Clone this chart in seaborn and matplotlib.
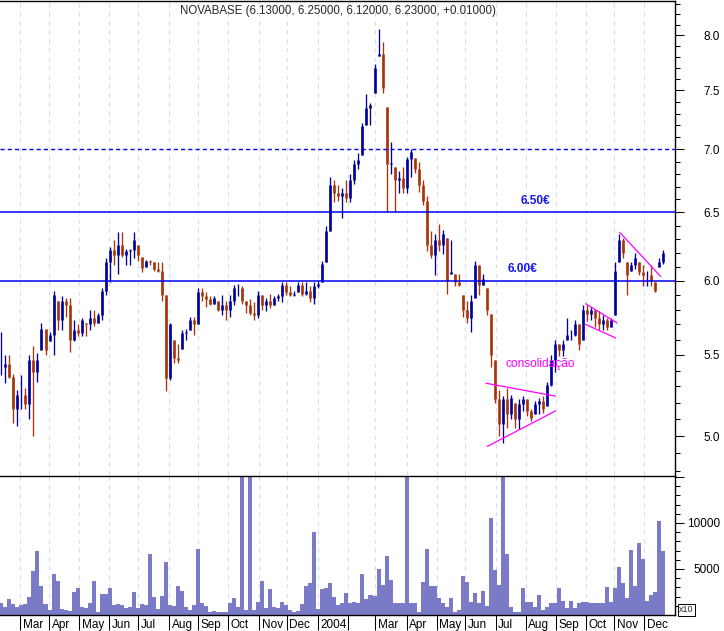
import numpy as np
import pandas as pd
import matplotlib
matplotlib.use("Agg")
import matplotlib.pyplot as plt
import matplotlib.transforms as mtransforms
from matplotlib.ticker import FixedLocator, FixedFormatter, NullFormatter
import seaborn as sns

# ------------------------- data (3-day bars) -------------------------
ORIGIN = "2003-02-10"
FIRST_BAR = "2003-02-11"
LAST_BAR = "2004-12-21"

HIGH = [5.65, 5.50, 5.50, 5.38, 5.28, 5.37, 5.29, 5.50, 5.56, 5.51,
        5.71, 5.67, 5.65, 5.93, 5.86, 5.89, 5.88, 5.88, 5.73, 5.70,
        5.74, 5.71, 5.80, 5.80, 5.78, 5.95, 6.16, 6.24, 6.29, 6.35,
        6.35, 6.23, 6.23, 6.35, 6.26, 6.17, 6.15, 6.15, 6.13, 6.13,
        6.13, 5.90, 5.71, 5.60, 5.57, 5.66, 5.67, 5.75, 5.75, 5.95,
        5.95, 5.92, 5.89, 5.89, 5.86, 5.90, 5.86, 5.90, 5.97, 5.98,
        5.96, 5.86, 5.87, 5.85, 5.93, 5.90, 5.88, 5.91, 5.89, 5.91,
        5.99, 5.99, 5.96, 5.93, 5.99, 5.99, 5.99, 5.96, 5.99, 6.00,
        6.14, 6.40, 6.78, 6.75, 6.71, 6.69, 6.75, 6.80, 6.91, 6.97,
        7.22, 7.47, 7.39, 7.74, 8.06, 7.94, 7.36, 7.06, 6.86, 6.82,
        6.86, 6.94, 7.00, 6.93, 6.90, 6.75, 6.63, 6.36, 6.34, 6.41,
        6.37, 6.31, 6.29, 6.05, 6.05, 5.90, 5.86, 5.90, 6.14, 6.11,
        6.05, 5.95, 5.77, 5.47, 5.28, 5.24, 5.29, 5.25, 5.20, 5.22,
        5.24, 5.22, 5.16, 5.21, 5.23, 5.24, 5.33, 5.50, 5.60, 5.57,
        5.60, 5.74, 5.66, 5.73, 5.70, 5.83, 5.83, 5.82, 5.80, 5.79,
        5.76, 5.74, 5.74, 6.13, 6.34, 6.31, 6.13, 6.13, 6.20, 6.13,
        6.11, 6.07, 6.11, 5.99, 6.16, 6.22]
LOW = [5.37, 5.32, 5.35, 5.08, 5.06, 5.16, 5.16, 5.10, 5.00, 5.33,
       5.53, 5.50, 5.59, 5.50, 5.66, 5.66, 5.75, 5.52, 5.59, 5.62,
       5.62, 5.62, 5.66, 5.69, 5.71, 5.73, 5.90, 5.99, 6.11, 6.05,
       6.17, 6.11, 6.11, 6.16, 6.14, 6.06, 6.10, 6.11, 6.07, 6.06,
       5.86, 5.27, 5.34, 5.45, 5.45, 5.54, 5.60, 5.66, 5.63, 5.70,
       5.86, 5.82, 5.83, 5.84, 5.79, 5.76, 5.73, 5.75, 5.83, 5.89,
       5.84, 5.78, 5.76, 5.73, 5.74, 5.80, 5.79, 5.81, 5.83, 5.86,
       5.85, 5.90, 5.89, 5.89, 5.92, 5.89, 5.90, 5.85, 5.84, 5.95,
       5.99, 6.13, 6.36, 6.58, 6.59, 6.46, 6.58, 6.58, 6.72, 6.84,
       6.95, 7.20, 7.20, 7.48, 7.81, 7.48, 6.50, 6.80, 6.50, 6.65,
       6.65, 6.65, 6.78, 6.81, 6.66, 6.56, 6.21, 6.16, 6.04, 6.21,
       6.19, 5.91, 6.05, 5.96, 5.96, 5.75, 5.71, 5.65, 5.88, 5.90,
       5.97, 5.76, 5.42, 5.20, 5.00, 4.96, 5.05, 5.10, 5.05, 5.04,
       5.15, 5.12, 5.09, 5.13, 5.13, 5.14, 5.18, 5.30, 5.39, 5.49,
       5.49, 5.60, 5.60, 5.62, 5.53, 5.60, 5.72, 5.73, 5.68, 5.66,
       5.66, 5.66, 5.68, 5.76, 6.13, 6.16, 5.90, 6.07, 6.08, 6.04,
       5.96, 5.96, 5.96, 5.92, 6.10, 6.12]
CLOSE = [5.42, 5.44, 5.36, 5.16, 5.25, 5.25, 5.19, 5.47, 5.39, 5.47,
         5.67, 5.53, 5.63, 5.90, 5.73, 5.86, 5.83, 5.60, 5.66, 5.64,
         5.73, 5.70, 5.74, 5.71, 5.76, 5.93, 6.13, 6.22, 6.18, 6.26,
         6.18, 6.21, 6.22, 6.29, 6.18, 6.09, 6.14, 6.13, 6.08, 6.07,
         5.90, 5.35, 5.70, 5.48, 5.47, 5.64, 5.65, 5.73, 5.70, 5.92,
         5.89, 5.87, 5.84, 5.88, 5.80, 5.83, 5.80, 5.86, 5.95, 5.95,
         5.86, 5.83, 5.78, 5.76, 5.90, 5.83, 5.86, 5.83, 5.88, 5.89,
         5.97, 5.92, 5.90, 5.91, 5.97, 5.91, 5.93, 5.88, 5.96, 5.98,
         6.12, 6.36, 6.71, 6.65, 6.63, 6.65, 6.61, 6.75, 6.88, 6.91,
         7.19, 7.35, 7.37, 7.70, 7.83, 7.52, 6.88, 6.89, 6.75, 6.77,
         6.69, 6.92, 6.98, 6.84, 6.71, 6.59, 6.26, 6.18, 6.29, 6.26,
         6.34, 6.00, 6.06, 5.99, 5.97, 5.80, 5.74, 5.86, 6.11, 5.97,
         6.01, 5.80, 5.50, 5.22, 5.07, 5.22, 5.13, 5.23, 5.10, 5.19,
         5.22, 5.15, 5.11, 5.19, 5.21, 5.16, 5.31, 5.47, 5.57, 5.53,
         5.57, 5.63, 5.63, 5.70, 5.57, 5.80, 5.77, 5.80, 5.74, 5.70,
         5.73, 5.68, 5.73, 6.07, 6.29, 6.20, 6.04, 6.11, 6.16, 6.06,
         6.04, 6.04, 6.00, 5.93, 6.13, 6.20]
VOLUME = [1260, 900, 1700, 1150, 900, 1100, 1200, 2000, 4800, 7000,
          3100, 1200, 540, 4400, 3700, 600, 540, 400, 2500, 2900,
          900, 720, 1300, 3700, 360, 2300, 2300, 2900, 1100, 1200,
          1100, 720, 830, 2450, 800, 1150, 1100, 6600, 2000, 600,
          2100, 5800, 1100, 980, 3100, 2650, 900, 540, 1100, 7200,
          1340, 980, 360, 470, 360, 360, 360, 1340, 1900, 900,
          16000, 540, 16000, 540, 1400, 3700, 720, 2800, 830, 720,
          1450, 1100, 540, 360, 470, 1150, 3100, 3500, 9000, 600,
          2800, 2900, 3500, 2000, 1100, 1250, 2350, 1250, 1450, 1340,
          4500, 1700, 2200, 2100, 5000, 3250, 6400, 3800, 1340, 1250,
          1250, 16000, 1250, 1250, 360, 3600, 7200, 3150, 3100, 1800,
          1340, 900, 1900, 360, 540, 4200, 3550, 1450, 2350, 1340,
          2650, 980, 10500, 4900, 3300, 16000, 6600, 830, 360, 360,
          2900, 1450, 1450, 900, 2200, 540, 900, 1250, 1340, 2900,
          1550, 720, 1500, 800, 1340, 1400, 1450, 1340, 1250, 1250,
          1250, 3000, 1450, 2900, 5250, 3500, 1900, 7100, 3100, 7850,
          6050, 1500, 2200, 2500, 10200, 6900]

MONTH_STARTS = pd.date_range("2003-03-01", "2004-12-01", freq="MS")
MONTH_LABELS = ["Mar", "Apr", "May", "Jun", "Jul", "Aug", "Sep", "Oct", "Nov", "Dec",
                "2004", "", "Mar", "Apr", "May", "Jun", "Jul", "Aug", "Sep", "Oct",
                "Nov", "Dec"]

PRICE_TICKS = [5.0, 5.5, 6.0, 6.5, 7.0, 7.5, 8.0]
VOLUME_TICKS = [5000, 10000, 15000]
VOLUME_TICK_LABELS = ["5000", "10000", ""]

SOLID_LEVELS = [6.0, 6.5]
DASHED_LEVEL = 7.0
LEVEL_LABELS = [("6.50€", "2004-08-11", 6.59), ("6.00€", "2004-07-29", 6.08)]
NOTE = ("consolidação", "2004-08-17", 5.44)
TRENDLINES = [
    (("2004-06-22", 5.32), ("2004-09-01", 5.24)),
    (("2004-06-23", 4.94), ("2004-09-01", 5.15)),
    (("2004-10-01", 5.84), ("2004-11-03", 5.71)),
    (("2004-10-01", 5.70), ("2004-11-02", 5.61)),
    (("2004-11-05", 6.35), ("2004-12-17", 6.03)),
]

TITLE = "NOVABASE (6.13000, 6.25000, 6.12000, 6.23000, +0.01000)"

BLUE = "#00009C"
RED = "#A8340A"
LINE_BLUE = "#0000F0"
GRID = "#D8D8F6"
VOL_COLOR = "#7A7AC6"
MAGENTA = "#FF00FF"

W, H = 724, 631


def bday(d):
    return np.busday_count(ORIGIN, np.asarray(d, dtype="datetime64[D]"))


def fig_box(left, top, right, bottom):
    return [left / W, 1 - bottom / H, (right - left) / W, (bottom - top) / H]


sns.set_theme(style="white")
plt.rcParams["font.family"] = ["Liberation Sans", "DejaVu Sans"]
plt.rcParams["font.size"] = 8.5

fig = plt.figure(figsize=(W / 100, H / 100), dpi=100)
ax_p = fig.add_axes(fig_box(0, 1, 675, 475))
ax_v = fig.add_axes(fig_box(0, 476, 675, 615))

high = np.array(HIGH)
low = np.array(LOW)
close = np.array(CLOSE)
prev = np.r_[close[0], close[:-1]]
opn = np.clip(prev, low, high)
pos = np.linspace(bday(FIRST_BAR), bday(LAST_BAR), len(close))
colors = np.where(close >= prev, BLUE, RED)
month_pos = bday(MONTH_STARTS.values.astype("datetime64[D]"))
x_max = 494.5

# ------------------------- price panel -------------------------
for mp in month_pos:
    ax_p.axvline(mp, color=GRID, lw=0.8, ls=(0, (3.6, 4.5)), zorder=0)
ax_p.vlines(pos, low, high, colors=colors, lw=0.95, zorder=2)
ax_p.vlines(pos, np.minimum(opn, close), np.maximum(opn, close), colors=colors, lw=1.9, zorder=2)

for lvl in SOLID_LEVELS:
    ax_p.axhline(lvl, color=LINE_BLUE, lw=1.1, zorder=3)
ax_p.axhline(DASHED_LEVEL, color=LINE_BLUE, lw=1.0, ls=(0, (3, 2.2)), zorder=3)

for txt, d, y in LEVEL_LABELS:
    ax_p.text(bday(d), y, txt, color="#1818F0", fontweight="bold", fontsize=8.6,
              ha="center", va="center", zorder=4)
ax_p.text(bday(NOTE[1]), NOTE[2], NOTE[0], color=MAGENTA, fontsize=8.6,
          ha="center", va="center", zorder=4)
for (d0, y0), (d1, y1) in TRENDLINES:
    ax_p.plot([bday(d0), bday(d1)], [y0, y1], color=MAGENTA, lw=0.9, zorder=4)

ax_p.set_yscale("log")
ax_p.set_ylim(4.777, 8.33)
ax_p.set_xlim(0, x_max)
ax_p.yaxis.set_major_locator(FixedLocator(PRICE_TICKS))
ax_p.yaxis.set_major_formatter(FixedFormatter([f"{t:.1f}" for t in PRICE_TICKS]))
ax_p.yaxis.set_minor_locator(FixedLocator(np.round(np.arange(4.8, 8.35, 0.1), 1)))
ax_p.yaxis.set_minor_formatter(NullFormatter())
ax_p.tick_params(axis="y", which="both", left=False, right=True, labelleft=False,
                 labelright=True, direction="out", color="black", width=0.75,
                 labelsize=8.5, labelcolor="black")
ax_p.tick_params(axis="y", which="major", length=6.5, pad=26)
ax_p.tick_params(axis="y", which="minor", length=3.6)
ax_p.tick_params(axis="x", which="both", bottom=False, labelbottom=False)
for t in ax_p.yaxis.get_major_ticks():
    t.label2.set_horizontalalignment("right")
for side in ["left", "bottom"]:
    ax_p.spines[side].set_visible(False)
for side in ["top", "right"]:
    ax_p.spines[side].set_color("black")
    ax_p.spines[side].set_linewidth(1.0)

# ------------------------- volume panel -------------------------
vol_df = pd.DataFrame({"day": pos, "volume": VOLUME})
sns.barplot(data=vol_df, x="day", y="volume", native_scale=True, width=1.0,
            color=VOL_COLOR, saturation=1, linewidth=0, errorbar=None, ax=ax_v, zorder=2)
for mp in month_pos:
    ax_v.axvline(mp, color=GRID, lw=0.8, ls=(0, (3.6, 4.5)), zorder=0)

ax_v.set_xlim(0, x_max)
ax_v.set_ylim(0, 15100)
ax_v.set_xlabel("")
ax_v.set_ylabel("")
ax_v.yaxis.set_major_locator(FixedLocator(VOLUME_TICKS))
ax_v.yaxis.set_major_formatter(FixedFormatter(VOLUME_TICK_LABELS))
ax_v.yaxis.set_minor_locator(FixedLocator(np.arange(1000, 15001, 1000)))
ax_v.yaxis.set_minor_formatter(NullFormatter())
ax_v.tick_params(axis="y", which="both", left=False, right=True, labelleft=False,
                 labelright=True, direction="out", color="black", width=0.75,
                 labelsize=8.5, labelcolor="black")
ax_v.tick_params(axis="y", which="major", length=6.5, pad=26)
ax_v.tick_params(axis="y", which="minor", length=3.6)
for t in ax_v.yaxis.get_major_ticks():
    t.label2.set_horizontalalignment("right")

ax_v.xaxis.set_major_locator(FixedLocator(month_pos))
ax_v.xaxis.set_major_formatter(FixedFormatter(MONTH_LABELS))
ax_v.xaxis.set_minor_locator(FixedLocator([]))
ax_v.tick_params(axis="x", which="major", bottom=True, direction="out", length=10.8,
                 width=0.75, color="black", pad=-7.9, labelsize=8.5, labelcolor="black")
shift = mtransforms.ScaledTranslation(0.025, 0, fig.dpi_scale_trans)
for t in ax_v.xaxis.get_major_ticks():
    t.label1.set_horizontalalignment("left")
    t.label1.set_transform(t.label1.get_transform() + shift)
ax_v.spines["left"].set_visible(False)
for side in ["top", "right", "bottom"]:
    ax_v.spines[side].set_visible(True)
    ax_v.spines[side].set_color("black")
    ax_v.spines[side].set_linewidth(1.0)

# ------------------------- header and unit box -------------------------
fig.text(180 / W, 1 - 11 / H, TITLE, ha="left", va="center", fontsize=8.3)

fig.text(679 / W, 1 - 610 / H, "x10", ha="left", va="center", fontsize=6.5,
         bbox=dict(boxstyle="square,pad=0.15", fc="white", ec="black", lw=0.7))

fig.savefig("out.png", dpi=100)
